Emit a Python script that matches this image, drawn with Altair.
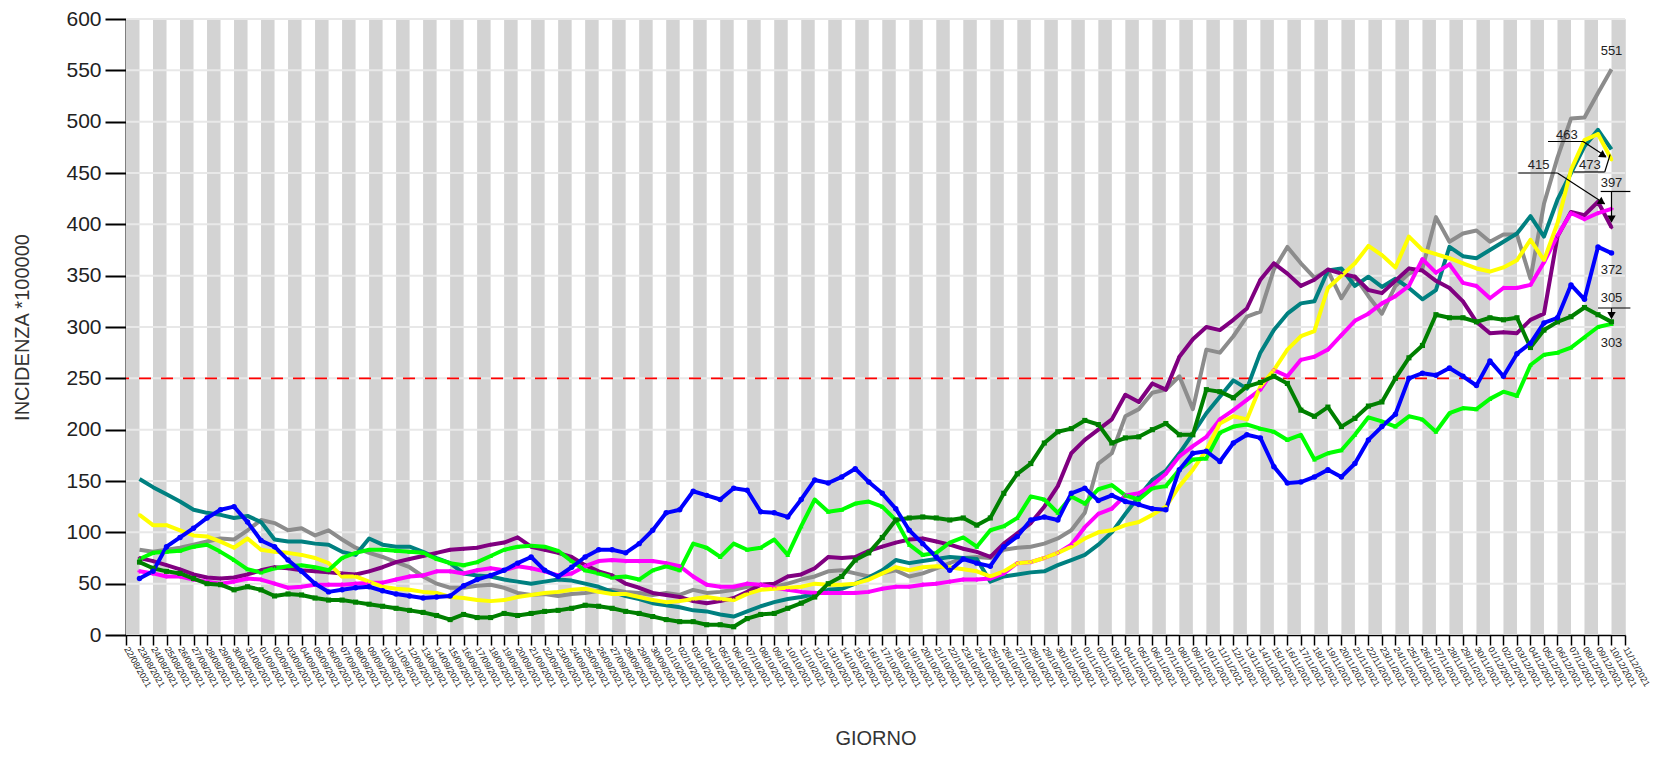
import altair as alt
import pandas as pd

# ---------------- data ----------------
TICK_LABELS = [d.strftime("%d/%m/%Y") for d in pd.date_range("2021-08-22", periods=112)]

TEAL = [152,144,137,130,122,119,117,114,116,110,
        93,91,91,89,88,81,78,94,88,86,
        86,81,75,70,60,58,57,54,52,50,
        52,54,53,50,47,42,38,35,31,29,
        27,24,23,20,18,23,28,32,35,37,
        40,44,45,50,56,63,73,70,72,74,
        76,75,74,52,57,59,61,62,68,73,
        78,88,100,118,135,151,160,177,196,216,
        232,248,240,275,297,313,323,325,355,357,
        340,349,339,347,338,327,336,378,369,367,
        375,383,391,408,388,424,450,476,492,473]

BLUE = [55,62,86,95,104,114,122,125,110,92,
        86,73,62,50,42,44,46,47,43,40,
        38,36,37,38,48,54,58,63,70,76,
        63,57,66,76,83,83,80,89,102,119,
        122,140,136,132,143,141,120,119,115,132,
        151,148,154,162,149,138,123,102,89,76,
        63,74,70,67,86,96,112,115,112,138,
        143,131,136,130,127,123,122,161,177,179,
        169,187,195,192,164,148,149,154,161,154,
        167,190,203,215,250,255,253,260,252,243,
        267,252,274,284,304,309,341,327,378,372]

YELLOW = [117,107,107,102,97,96,91,85,94,83,
          81,80,78,75,70,57,57,52,47,45,
          44,42,41,37,36,34,33,34,37,39,
          41,42,44,45,42,40,40,37,34,32,
          33,35,37,35,34,40,44,45,46,47,
          50,49,49,50,54,60,66,63,66,67,
          66,64,62,57,62,70,71,75,80,86,
          94,100,102,107,110,117,125,145,161,180,
          206,213,210,242,258,278,291,296,338,350,
          362,379,370,358,388,375,371,367,362,357,
          354,358,365,385,365,401,453,482,488,463]

GRAY = [83,81,83,85,88,91,94,93,102,112,
        109,102,104,97,102,93,85,80,76,71,
        66,57,50,46,46,48,49,46,41,39,
        40,38,40,41,43,44,42,41,39,41,
        39,44,41,42,44,47,49,47,50,54,
        57,62,63,60,57,60,63,57,60,65,
        70,75,76,75,83,85,86,89,94,102,
        119,167,177,213,220,236,239,252,220,278,
        275,291,310,315,356,378,362,348,355,328,
        349,330,313,340,352,357,407,383,391,394,
        383,390,390,347,420,465,503,504,528,551]

MAGENTA = [62,60,57,57,54,52,50,52,55,54,
           50,46,47,49,49,49,50,51,51,54,
           57,58,62,62,60,63,65,63,67,65,
           62,58,60,67,72,73,72,72,72,70,
           67,57,49,47,47,50,49,46,44,42,
           41,41,41,41,42,45,47,47,49,50,
           52,54,54,55,60,70,71,75,80,88,
           105,118,123,136,138,146,157,174,184,193,
           210,219,229,239,258,252,268,271,278,292,
           306,313,323,330,340,366,353,361,343,340,
           328,338,338,341,363,389,411,405,411,415]

PURPLE = [75,72,68,64,59,56,55,56,59,63,
          66,65,63,62,61,60,59,62,66,71,
          74,77,80,83,84,85,88,90,95,86,
          83,80,76,68,62,58,50,46,41,39,
          37,33,31,33,36,42,49,50,57,59,
          65,76,75,76,82,86,90,93,94,91,
          88,84,81,76,89,99,109,125,145,177,
          190,200,210,234,227,245,239,271,288,300,
          297,307,318,346,362,352,340,346,356,352,
          349,336,333,345,357,355,345,338,325,305,
          294,295,294,307,313,388,412,409,422,397]

DKGREEN = [71,65,62,60,55,50,49,44,47,44,
           38,40,39,36,34,34,32,30,28,26,
           24,22,19,15,20,17,17,21,19,21,
           23,24,26,29,28,26,23,21,18,15,
           13,13,10,10,8,16,20,21,26,31,
           37,50,57,73,80,95,112,114,115,114,
           112,114,107,114,138,157,167,187,198,201,
           209,205,187,192,193,200,206,195,195,239,
           237,231,242,246,252,245,219,213,222,203,
           211,223,227,250,270,282,312,309,309,305,
           309,307,309,280,297,305,310,319,312,305]

LIME = [74,80,81,82,86,88,81,73,64,61,
        65,67,68,66,63,75,80,83,83,82,
        81,80,74,70,68,71,77,83,86,87,
        86,82,72,63,60,56,57,54,63,67,
        63,89,85,76,89,83,85,93,78,106,
        132,120,122,128,130,125,112,88,78,80,
        90,95,86,102,106,114,135,132,119,135,
        128,142,146,136,132,143,145,161,171,172,
        197,203,205,201,198,190,195,171,177,180,
        195,212,208,203,213,210,198,216,221,220,
        230,237,233,263,273,275,280,290,300,303]

THRESHOLD = 250

# ---------------- styling ----------------
W, H = 1499, 616
N_TICKS = len(TICK_LABELS)            # 112 tick positions (0..111)
FONT = "Liberation Sans"

# draw order, colour, marker
SERIES = [
    ("gray", GRAY, "#8c8c8c", None, 0),
    ("teal", TEAL, "#008080", None, 0),
    ("purple", PURPLE, "#800080", "diamond", 18),
    ("magenta", MAGENTA, "#ff00ff", "cross", 18),
    ("yellow", YELLOW, "#ffff00", "circle", 12),
    ("lime", LIME, "#00ff00", "triangle-up", 22),
    ("dkgreen", DKGREEN, "#008000", "square", 26),
    ("blue", BLUE, "#0000ff", "circle", 30),
]

xs = alt.Scale(domain=[0, N_TICKS - 1], nice=False, zero=False)
ys = alt.Scale(domain=[0, 600], nice=False, zero=True)

label_expr = "[" + ",".join("'" + s + "'" for s in TICK_LABELS) + "][datum.value]"
xax = alt.Axis(
    values=list(range(N_TICKS)), labelExpr=label_expr, title="GIORNO",
    grid=False, domainColor="#000000", domainWidth=1.5, tickColor="#000000",
    tickWidth=1.5, tickSize=10, labelAngle=60, labelAlign="left",
    labelBaseline="middle", labelFontSize=9, labelColor="#222222",
    labelOverlap=False, labelPadding=2, labelFlush=False, labelBound=False,
    titleFontSize=20, titleFontWeight="normal", titleColor="#333333",
    titleX=W / 2, titleY=103, titleBaseline="middle", titleAlign="center",
)
yax = alt.Axis(
    values=list(range(0, 601, 50)), title="INCIDENZA *100000", grid=False,
    domainColor="#000000", domainWidth=2, tickColor="#000000", tickWidth=2,
    tickSize=21, labelFontSize=21, labelColor="#222222", labelPadding=4,
    titleFontSize=20, titleFontWeight="normal", titleColor="#333333",
    titleX=-104, titleY=H / 2, titleAngle=270, titleBaseline="middle",
    titleAlign="center",
)

# ---------------- layers ----------------
band_df = pd.DataFrame({"start": list(range(0, N_TICKS - 1, 2))})
bands = alt.Chart(band_df).transform_calculate(end="datum.start + 1").mark_rect(
    color="#d3d3d3"
).encode(
    x=alt.X("start:Q", scale=xs, axis=xax),
    x2="end:Q",
    y=alt.value(0),
    y2=alt.value(H),
)

grid_df = pd.DataFrame({"g": list(range(50, 601, 50))})
grid = alt.Chart(grid_df).mark_rule(color="#e8e8e8", strokeWidth=2).encode(
    y=alt.Y("g:Q", scale=ys, axis=yax)
)

thr = alt.Chart(pd.DataFrame({"soglia": [THRESHOLD]})).mark_rule(
    color="#ff0000", strokeDash=[12, 10], strokeWidth=1.6
).encode(y=alt.Y("soglia:Q", scale=ys, axis=yax))

layers = [bands, grid, thr]

for name, vals, col, shape, size in SERIES:
    d = pd.DataFrame({"pos": [i + 1 for i in range(len(vals))], "valore": vals})
    base = alt.Chart(d).encode(
        x=alt.X("pos:Q", scale=xs, axis=xax),
        y=alt.Y("valore:Q", scale=ys, axis=yax),
    )
    layers.append(base.mark_line(color=col, strokeWidth=4, strokeJoin="round"))

for name, vals, col, shape, size in SERIES:
    if shape is None:
        continue
    d = pd.DataFrame({"pos": [i + 1 for i in range(len(vals))], "valore": vals})
    layers.append(
        alt.Chart(d).mark_point(shape=shape, size=size, filled=True, color=col, opacity=1).encode(
            x=alt.X("pos:Q", scale=xs, axis=xax),
            y=alt.Y("valore:Q", scale=ys, axis=yax),
        )
    )

# ---------------- end-of-line annotations ----------------
last = N_TICKS - 2   # position of the last point
ann_text = pd.DataFrame([
    {"x": last, "y": GRAY[-1] + 17.5, "t": str(GRAY[-1])},
    {"x": last, "y": BLUE[-1] - 16.5, "t": str(BLUE[-1])},
    {"x": last, "y": LIME[-1] - 18.5, "t": str(LIME[-1])},
    {"x": last, "y": DKGREEN[-1] + 23, "t": str(DKGREEN[-1])},
    {"x": last, "y": PURPLE[-1] + 43.5, "t": str(PURPLE[-1])},
    {"x": last - 5.4, "y": MAGENTA[-1] + 43, "t": str(MAGENTA[-1])},
    {"x": last - 3.3, "y": YELLOW[-1] + 24, "t": str(YELLOW[-1])},
    {"x": last - 1.6, "y": TEAL[-1] - 15, "t": str(TEAL[-1])},
])
texts = alt.Chart(ann_text).mark_text(
    fontSize=13, color="#222222", align="center", baseline="middle", font=FONT
).encode(
    x=alt.X("x:Q", scale=xs, axis=xax),
    y=alt.Y("y:Q", scale=ys, axis=yax),
    text="t:N",
)

seg = pd.DataFrame([
    # underlines
    {"x": last - 1.0, "x2": last + 1.4, "y": DKGREEN[-1] + 13.5, "y2": DKGREEN[-1] + 13.5},
    {"x": last - 0.8, "x2": last + 1.4, "y": PURPLE[-1] + 35, "y2": PURPLE[-1] + 35},
    {"x": last - 6.9, "x2": last - 4.0, "y": MAGENTA[-1] + 35, "y2": MAGENTA[-1] + 35},
    {"x": last - 4.7, "x2": last - 2.1, "y": YELLOW[-1] + 17.7, "y2": YELLOW[-1] + 17.7},
    {"x": last - 2.8, "x2": last - 0.5, "y": TEAL[-1] - 22, "y2": TEAL[-1] - 22},
    # leaders
    {"x": last, "x2": last, "y": DKGREEN[-1] + 13.5, "y2": DKGREEN[-1] + 5},
    {"x": last, "x2": last, "y": PURPLE[-1] + 35, "y2": PURPLE[-1] + 7},
    {"x": last - 4.0, "x2": last - 0.5, "y": MAGENTA[-1] + 35, "y2": MAGENTA[-1] + 5},
    {"x": last - 2.1, "x2": last - 0.4, "y": YELLOW[-1] + 17.7, "y2": YELLOW[-1] + 3},
    {"x": last - 0.5, "x2": last - 0.1, "y": TEAL[-1] - 22, "y2": TEAL[-1] - 5},
])
segs = alt.Chart(seg).mark_rule(color="#000000", strokeWidth=1.2).encode(
    x=alt.X("x:Q", scale=xs, axis=xax),
    x2="x2:Q",
    y=alt.Y("y:Q", scale=ys, axis=yax),
    y2="y2:Q",
)

heads = pd.DataFrame([
    {"x": last, "y": DKGREEN[-1] + 6, "shp": "triangle-down", "ang": 0},
    {"x": last, "y": PURPLE[-1] + 8, "shp": "triangle-down", "ang": 0},
    {"x": last - 0.7, "y": MAGENTA[-1] + 6.5, "shp": "triangle-right", "ang": 34},
    {"x": last - 0.6, "y": YELLOW[-1] + 4, "shp": "triangle-right", "ang": 33},
])
arrows = alt.Chart(heads).mark_point(filled=True, color="#000000", size=70, opacity=1).encode(
    x=alt.X("x:Q", scale=xs, axis=xax),
    y=alt.Y("y:Q", scale=ys, axis=yax),
    shape=alt.Shape("shp:N", scale=None),
    angle=alt.Angle("ang:Q", scale=None),
)

layers += [segs, arrows, texts]

chart = alt.layer(*layers).properties(
    width=W,
    height=H,
    autosize=alt.AutoSizeParams(type="none"),
    padding={"left": 118, "top": 11, "right": 46, "bottom": 116},
).configure_view(stroke=None).configure(font=FONT)

chart.save("out.html", embed_options={"renderer": "svg", "actions": False})
